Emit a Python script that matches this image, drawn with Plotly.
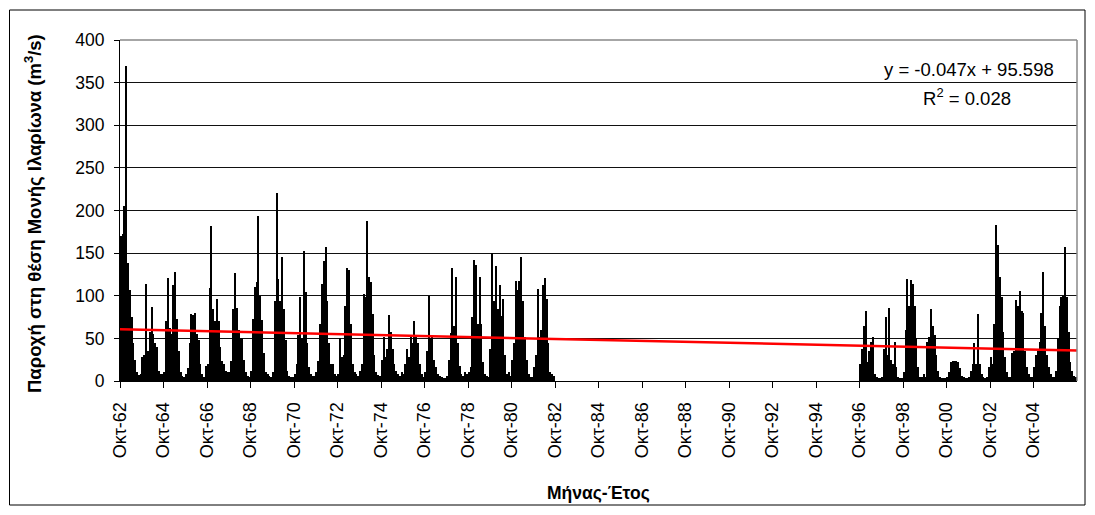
import plotly.graph_objects as go

# Monthly discharge (m3/s), hydrological years Oct-Sep, 1962-63 ... 1981-82
y62 = [170, 172, 205, 369, 138, 107, 75, 45, 25, 10, 7, 8]
y63 = [28, 30, 114, 35, 58, 87, 55, 45, 40, 12, 8, 8]
y64 = [10, 70, 121, 62, 55, 113, 128, 73, 35, 10, 6, 5]
y65 = [8, 15, 45, 79, 78, 80, 55, 48, 20, 8, 5, 18]
y66 = [20, 109, 182, 84, 70, 96, 70, 40, 24, 20, 12, 10]
y67 = [10, 24, 85, 127, 86, 60, 50, 50, 25, 10, 6, 5]
y68 = [12, 73, 110, 116, 193, 100, 72, 33, 10, 8, 6, 5]
y69 = [10, 94, 221, 120, 94, 145, 84, 48, 12, 6, 5, 5]
y70 = [8, 20, 54, 98, 50, 153, 104, 44, 17, 8, 6, 6]
y71 = [10, 24, 67, 114, 141, 157, 94, 44, 20, 20, 8, 6]
y72 = [8, 50, 28, 30, 88, 133, 130, 67, 20, 10, 8, 6]
y73 = [12, 20, 102, 98, 188, 122, 116, 79, 30, 10, 7, 6]
y74 = [25, 52, 28, 37, 78, 57, 37, 20, 12, 8, 6, 10]
y75 = [8, 20, 38, 28, 52, 44, 70, 52, 44, 20, 8, 5]
y76 = [10, 35, 100, 50, 52, 25, 17, 8, 6, 5, 4, 4]
y77 = [6, 25, 56, 132, 64, 122, 44, 18, 8, 6, 10, 8]
y78 = [10, 17, 75, 142, 136, 67, 122, 67, 22, 8, 6, 5]
y79 = [37, 150, 94, 135, 84, 113, 76, 96, 30, 8, 10, 6]
y80 = [25, 44, 117, 107, 117, 145, 94, 52, 25, 8, 5, 5]
y81 = [17, 30, 108, 52, 60, 113, 121, 96, 44, 10, 8, 6]
# 1982-83 ... 1995-96: no measurements (14 years)
missing_years = 14
# 1996-97 ... 2005-06
y96 = [20, 37, 64, 82, 22, 35, 46, 52, 8, 5, 4, 4]
y97 = [5, 37, 75, 30, 86, 25, 20, 46, 17, 5, 4, 3]
y98 = [10, 60, 120, 88, 118, 114, 88, 50, 17, 5, 5, 8]
y99 = [5, 46, 52, 84, 64, 54, 30, 12, 5, 4, 4, 4]
y00 = [5, 10, 22, 23, 24, 23, 22, 15, 6, 5, 4, 4]
y01 = [5, 12, 20, 44, 20, 79, 20, 8, 5, 4, 5, 17]
y02 = [28, 20, 67, 183, 160, 122, 98, 58, 28, 10, 5, 5]
y03 = [33, 35, 95, 88, 105, 82, 80, 35, 17, 8, 5, 5]
y04 = [17, 30, 35, 46, 80, 128, 64, 30, 17, 8, 5, 5]
y05 = [12, 50, 88, 98, 100, 157, 98, 57, 22, 12, 6, 5]

tick_labels = ["Οκτ-62", "Οκτ-64", "Οκτ-66", "Οκτ-68", "Οκτ-70", "Οκτ-72",
               "Οκτ-74", "Οκτ-76", "Οκτ-78", "Οκτ-80", "Οκτ-82", "Οκτ-84",
               "Οκτ-86", "Οκτ-88", "Οκτ-90", "Οκτ-92", "Οκτ-94", "Οκτ-96",
               "Οκτ-98", "Οκτ-00", "Οκτ-02", "Οκτ-04"]

# Linear trend as reported by the source chart
trend_slope = -0.047
trend_intercept = 95.598
trend_x_offset = 745  # index of Oct-62 in the source series
trend_text = "y = -0.047x + 95.598"
r2_text = "R<sup>2</sup> = 0.028"
y_title = "<b>Παροχή στη θέση Μονής Ιλαρίωνα (m<sup>3</sup>/s)</b>"
x_title = "<b>Μήνας-Έτος</b>"

first = [y62, y63, y64, y65, y66, y67, y68, y69, y70, y71,
         y72, y73, y74, y75, y76, y77, y78, y79, y80, y81]
second = [y96, y97, y98, y99, y00, y01, y02, y03, y04, y05]
values = [v for yr in first for v in yr] + [None] * (12 * missing_years) + \
         [v for yr in second for v in yr]
n = len(values)
xs = [i + 0.5 for i in range(n)]

fig = go.Figure()
fig.add_trace(go.Bar(x=xs, y=values, marker=dict(color="black", line=dict(width=0)),
                     width=0.75, showlegend=False))
trend_x = [0, n]
trend_y = [trend_intercept + trend_slope * (t + trend_x_offset) for t in trend_x]
fig.add_trace(go.Scatter(x=trend_x, y=trend_y, mode="lines",
                         line=dict(color="#ff0000", width=2.5), showlegend=False))

L, R, T, B = 120, 1077, 40, 381
W, H = R - L, B - T
def px(xp):
    return (xp - L) / W
def py(yp):
    return (B - yp) / H

font = "Liberation Sans, Arial, sans-serif"
fig.update_layout(
    width=1095, height=515,
    margin=dict(l=L, r=1095 - R, t=T, b=515 - B),
    paper_bgcolor="white", plot_bgcolor="white",
    font=dict(family=font, size=16, color="black"),
    bargap=0,
    xaxis=dict(range=[0, n], tickmode="array",
               tickvals=list(range(0, n, 24)), ticktext=tick_labels,
               tickangle=-90, ticks="outside", ticklen=6, tickcolor="black",
               ticklabelstandoff=7,
               showline=True, linecolor="black", linewidth=1,
               showgrid=False, zeroline=False,
               tickfont=dict(size=18)),
    yaxis=dict(range=[0, 400], tickvals=list(range(0, 401, 50)),
               ticks="outside", ticklen=5, tickcolor="black",
               ticklabelstandoff=6,
               showline=True, linecolor="black", linewidth=1,
               showgrid=True, gridcolor="#111", gridwidth=1, zeroline=False,
               tickfont=dict(size=17.5)),
    shapes=[
        dict(type="line", xref="paper", yref="paper", x0=0, x1=1, y0=1, y1=1,
             line=dict(color="#888", width=1.5)),
        dict(type="line", xref="paper", yref="paper", x0=1, x1=1, y0=0, y1=1,
             line=dict(color="#888", width=1.5)),
        dict(type="rect", xref="paper", yref="paper",
             x0=px(9.5), x1=px(1085), y0=py(505), y1=py(10),
             line=dict(color="black", width=1)),
    ],
    annotations=[
        dict(text=trend_text, xref="paper", yref="paper",
             x=px(1056), y=py(69), xanchor="right", yanchor="middle",
             showarrow=False, font=dict(size=18.5)),
        dict(text=r2_text, xref="paper", yref="paper",
             x=px(967), y=py(97), xanchor="center", yanchor="middle",
             showarrow=False, font=dict(size=18.5)),
        dict(text=y_title, xref="paper", yref="paper", textangle=-90,
             x=px(33), y=py(214), xanchor="center", yanchor="middle",
             showarrow=False, font=dict(size=18.5)),
        dict(text=x_title, xref="paper", yref="paper",
             x=px(598), y=py(493), xanchor="center", yanchor="middle",
             showarrow=False, font=dict(size=17.5)),
    ],
)
fig.write_html("out.html")
